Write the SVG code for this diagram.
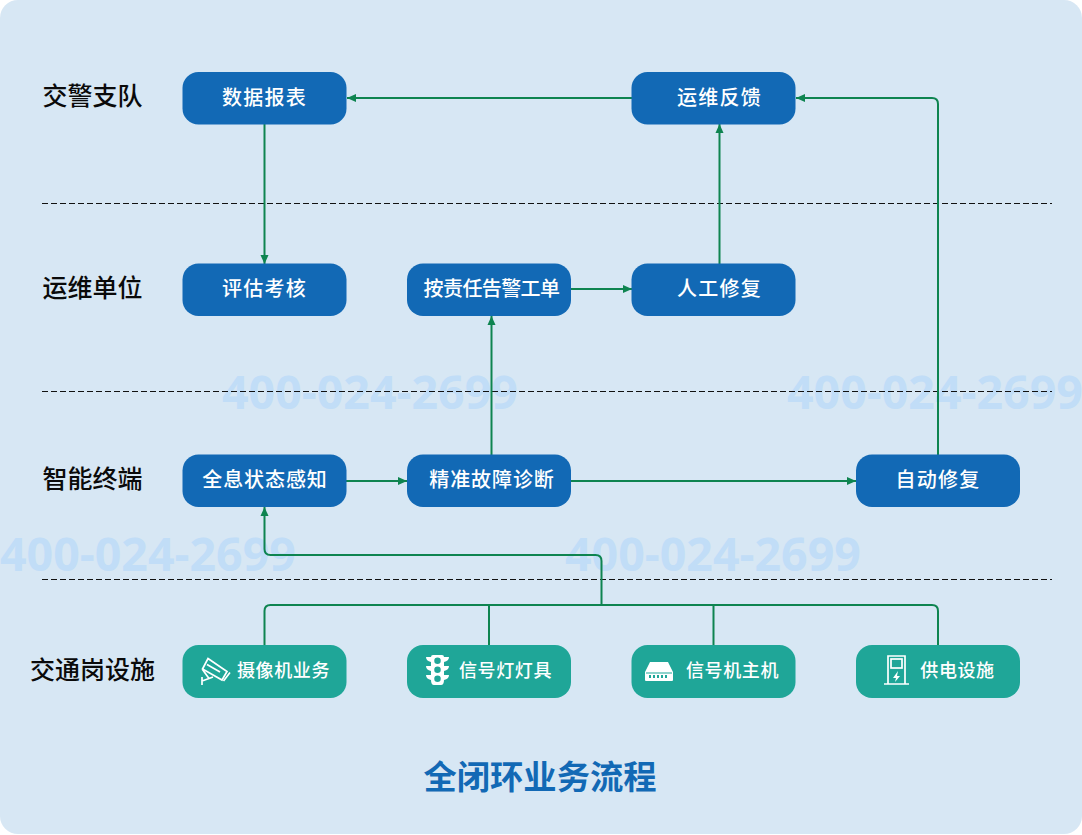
<svg xmlns="http://www.w3.org/2000/svg" width="1082" height="835" viewBox="0 0 1082 835">
<style>
.lane{font:500 25px "Noto Sans CJK SC",sans-serif;fill:#0a0a0a;text-anchor:middle}
.n{font:500 20px "Noto Sans CJK SC",sans-serif;fill:#fff;text-anchor:middle;letter-spacing:1.2px}
.t{letter-spacing:-.6px}
.w{letter-spacing:.9px}
.s{font:500 18px "Noto Sans CJK SC",sans-serif;fill:#fff;text-anchor:middle;letter-spacing:.6px}
.b{fill:#1269b5}
.g{fill:#1fa698}
.wm{font:700 46.500px "Open Sans",sans-serif;fill:#c1ddf7}
.div{stroke:#111;stroke-width:1;stroke-dasharray:6 3;fill:none}
.c{stroke:#0e8450;stroke-width:2;fill:none}
.i{fill:#fff}
.o{fill:none;stroke:#fff;stroke-width:1.7}
</style>
<defs>
<marker id="a" markerUnits="userSpaceOnUse" markerWidth="10" markerHeight="10" refX="9" refY="5" orient="auto"><path d="M0 1L9 5L0 9Z" fill="#0e8450"/></marker>
</defs>
<rect id="panel" x="0" y="0" width="1082" height="834" rx="18" fill="#d7e7f4"/>
<g id="watermarks">
<text class="wm" x="222" y="409">400-024-2699</text>
<text class="wm" x="787" y="409">400-024-2699</text>
<text class="wm" x="0" y="571">400-024-2699</text>
<text class="wm" x="565" y="571">400-024-2699</text>
</g>
<g id="dividers">
<path class="div" d="M42 203.500H1052M42 391.500H1052M42 579.500H1052"/>
</g>
<g id="lanes">
<text class="lane" x="92.500" y="105">交警支队</text>
<text class="lane" x="92.500" y="297">运维单位</text>
<text class="lane" x="92.500" y="488">智能终端</text>
<text class="lane" x="92.500" y="679">交通岗设施</text>
</g>
<g id="connectors">
<path class="c" marker-end="url(#a)" d="M632 98H347"/>
<path class="c" marker-end="url(#a)" d="M264.500 124V264"/>
<path class="c" marker-end="url(#a)" d="M571 289H632"/>
<path class="c" marker-end="url(#a)" d="M719.500 264V124"/>
<path class="c" marker-end="url(#a)" d="M491.500 455V316"/>
<path class="c" marker-end="url(#a)" d="M346 481H407"/>
<path class="c" marker-end="url(#a)" d="M571 481H856"/>
<path class="c" marker-end="url(#a)" d="M938 455V104Q938 98 932 98H796"/>
<path class="c" marker-end="url(#a)" d="M601.500 605V561Q601.500 555 595.500 555H270.500Q264.500 555 264.500 549V507"/>
<path class="c" d="M264.500 645V611Q264.500 605 270.500 605H932Q938 605 938 611V645"/>
<path class="c" d="M489 605V645M713.500 605V645"/>
</g>
<g id="n-report"><rect class="b" x="182.500" y="72" width="164" height="52.500" rx="16"/><text class="n" x="264.500" y="105">数据报表</text></g>
<g id="n-feedback"><rect class="b" x="631.500" y="72" width="164" height="52.500" rx="16"/><text class="n" x="719.500" y="105">运维反馈</text></g>
<g id="n-assess"><rect class="b" x="182.500" y="263.500" width="164" height="52.500" rx="16"/><text class="n" x="264.500" y="296">评估考核</text></g>
<g id="n-ticket"><rect class="b" x="407" y="263.500" width="164" height="52.500" rx="16"/><text class="n t" x="491.500" y="296">按责任告警工单</text></g>
<g id="n-manual"><rect class="b" x="631.500" y="263.500" width="164" height="52.500" rx="16"/><text class="n" x="719.500" y="296">人工修复</text></g>
<g id="n-sense"><rect class="b" x="182.500" y="454.500" width="164" height="52.500" rx="16"/><text class="n w" x="265" y="487">全息状态感知</text></g>
<g id="n-diag"><rect class="b" x="407" y="454.500" width="164" height="52.500" rx="16"/><text class="n w" x="492" y="487">精准故障诊断</text></g>
<g id="n-auto"><rect class="b" x="856" y="454.500" width="164" height="52.500" rx="16"/><text class="n" x="938" y="487">自动修复</text></g>
<g id="n-camera"><rect class="g" x="182.500" y="645" width="164" height="53" rx="16"/>
<path class="o" d="M208 658.500L227 671.500L222 680L202.500 669Z"/><path class="o" d="M207 664.500L220 672"/><path class="o" d="M202.500 669.500L209 678.500L213 677M230 672.500L223.500 681M202 677V685M202 681L209 678.500"/>
<text class="s" x="283.500" y="677">摄像机业务</text></g>
<g id="n-light"><rect class="g" x="407" y="645" width="164" height="53" rx="16"/>
<path class="i" fill-rule="evenodd" d="M433 655H442Q444 655 444 657H449Q449 661 444 662V666H449Q449 670 444 671V675H449Q449 679 444 680Q444 685 441 685H434Q431 685 431 680Q426 679 426 675H431V671Q426 670 426 666H431V662Q426 661 426 657H431Q431 655 433 655ZM437.500 657.500A3.200 3.200 0 1 0 437.500 664A3.200 3.200 0 1 0 437.500 657.500ZM437.500 666.500A3.200 3.200 0 1 0 437.500 673A3.200 3.200 0 1 0 437.500 666.500ZM437.500 675.500A3.200 3.200 0 1 0 437.500 682A3.200 3.200 0 1 0 437.500 675.500Z"/>
<text class="s" x="505.500" y="677">信号灯灯具</text></g>
<g id="n-host"><rect class="g" x="631.500" y="645" width="164" height="53" rx="16"/>
<path class="i" fill-rule="evenodd" d="M650 662H668L673 672V680Q673 681 672 681H646Q645 681 645 680V672ZM646 672.500V673.500H672V672.500ZM649 675V678H651V675ZM653 675V678H655V675ZM657 675V678H659V675ZM661 675V678H663V675ZM665 675V678H667V675Z"/>
<text class="s" x="732.500" y="677">信号机主机</text></g>
<g id="n-power"><rect class="g" x="856" y="645" width="164" height="53" rx="16"/>
<path class="o" d="M888 684V656H905V684M884 684H909"/><rect class="o" x="891" y="659" width="11" height="9"/><path class="i" d="M898 671L893 678H896L895 682L900 676H897Z"/>
<text class="s" x="957.500" y="677">供电设施</text></g>
<text id="title" x="540" y="789" font-family="Noto Sans CJK SC,sans-serif" font-weight="700" font-size="33.300" fill="#1269b5" text-anchor="middle">全闭环业务流程</text>
</svg>
